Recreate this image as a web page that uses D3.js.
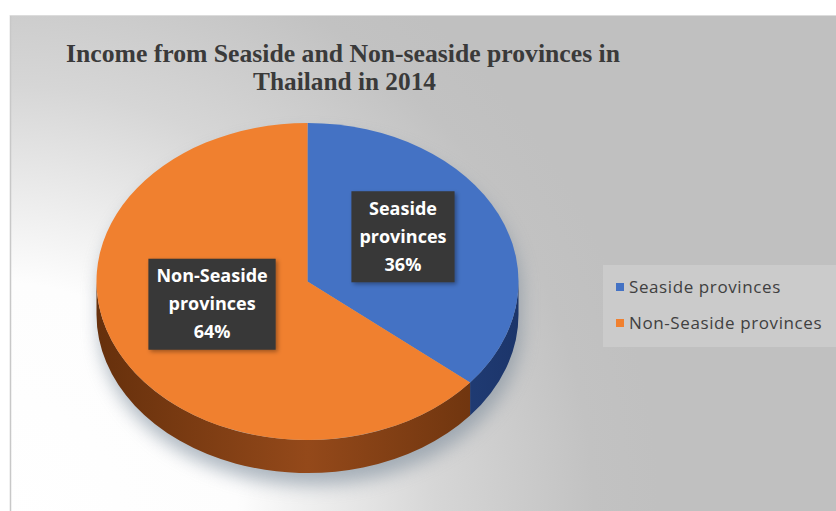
<!DOCTYPE html>
<html>
<head>
<meta charset="utf-8">
<script src="https://cdn.jsdelivr.net/npm/d3@7"></script>
<style>
  html, body { margin: 0; padding: 0; background: #fff; }
  svg { display: block; }
</style>
</head>
<body>
<svg id="chart" width="836" height="511"></svg>
<script>
// Income share by province group, Thailand 2014
const categories = ["Seaside provinces", "Non-Seaside provinces"];
const labelLines = [["Seaside", "provinces"], ["Non-Seaside", "provinces"]];
const shares = [36, 64];
const titleLines = ["Income from Seaside and Non-seaside provinces in", "Thailand in 2014"];

const topColors = ["#4472c4", "#f0802f"];
const sideLight = ["#2a4d8f", "#94491a"];
const sideDark = ["#1c356a", "#66300c"];

const W = 836, H = 511;
const svg = d3.select("#chart");
const defs = svg.append("defs");

// chart area background: grey fading to white towards the lower left
const bg = defs.append("radialGradient").attr("id", "bgGrad")
  .attr("gradientUnits", "userSpaceOnUse")
  .attr("cx", 0).attr("cy", 520).attr("r", 660);
bg.append("stop").attr("offset", "0").attr("stop-color", "#ffffff");
bg.append("stop").attr("offset", "0.36").attr("stop-color", "#fdfdfd");
bg.append("stop").attr("offset", "0.66").attr("stop-color", "#d6d6d6");
bg.append("stop").attr("offset", "0.9").attr("stop-color", "#c2c2c2");
bg.append("stop").attr("offset", "1").attr("stop-color", "#c0c0c0");

svg.append("rect").attr("x", 10).attr("y", 15).attr("width", W - 10).attr("height", H - 15)
  .attr("fill", "url(#bgGrad)");
svg.append("line").attr("x1", 10.5).attr("x2", 10.5).attr("y1", 15).attr("y2", H)
  .attr("stroke", "#c8c8c8").attr("stroke-width", 1.5);
svg.append("line").attr("x1", 10).attr("x2", W).attr("y1", 15.5).attr("y2", 15.5)
  .attr("stroke", "#dcdcdc").attr("stroke-width", 1);

// title
const title = svg.append("g").attr("fill", "#3a3a3a")
  .attr("font-family", "'Liberation Serif', 'Times New Roman', serif")
  .attr("font-weight", "bold").attr("font-size", 25).attr("text-anchor", "middle");
title.append("text").attr("x", 343).attr("y", 62)
  .attr("textLength", 554).attr("lengthAdjust", "spacingAndGlyphs").text(titleLines[0]);
title.append("text").attr("x", 344.5).attr("y", 90)
  .attr("textLength", 183).attr("lengthAdjust", "spacingAndGlyphs").text(titleLines[1]);

// 3D pie geometry
const cx = 307.5, cy = 281.5, rx = 211, ry = 158.5, depth = 33;
const rScale = d3.scaleLinear().domain([0, 1]).range([0, 1]);
const pt = (a, f = 1, dy = 0) => [cx + rx * rScale(f) * Math.sin(a), cy - ry * rScale(f) * Math.cos(a) + dy];

const arcs = d3.pie().sort(null).value(d => d)(shares);

function topPath(d) {
  const [x0, y0] = pt(d.startAngle), [x1, y1] = pt(d.endAngle);
  const large = d.endAngle - d.startAngle > Math.PI ? 1 : 0;
  return `M${cx},${cy}L${x0},${y0}A${rx},${ry} 0 ${large} 1 ${x1},${y1}Z`;
}
function sidePath(a0, a1) {
  const [x0, y0] = pt(a0), [x1, y1] = pt(a1);
  const [bx1, by1] = pt(a1, 1, depth), [bx0, by0] = pt(a0, 1, depth);
  const large = a1 - a0 > Math.PI ? 1 : 0;
  return `M${x0},${y0}A${rx},${ry} 0 ${large} 1 ${x1},${y1}L${bx1},${by1}` +
         `A${rx},${ry} 0 ${large} 0 ${bx0},${by0}Z`;
}

// soft drop shadow beneath the pie
const shf = defs.append("filter").attr("id", "pieShadow")
  .attr("x", "-20%").attr("y", "-20%").attr("width", "140%").attr("height", "150%");
shf.append("feGaussianBlur").attr("stdDeviation", 9);
svg.append("path")
  .attr("d", `M${cx - rx},${cy}A${rx},${ry} 0 1 1 ${cx + rx},${cy}L${cx + rx},${cy + depth}` +
             `A${rx},${ry} 0 1 1 ${cx - rx},${cy + depth}Z`)
  .attr("transform", "translate(3,12)")
  .attr("fill", "#7a8a9a").attr("opacity", 0.6).attr("filter", "url(#pieShadow)");

// side walls (front half only)
const front0 = Math.PI / 2, front1 = 3 * Math.PI / 2;
arcs.forEach((d, i) => {
  const a0 = Math.max(d.startAngle, front0), a1 = Math.min(d.endAngle, front1);
  if (a1 <= a0) return;
  const g = defs.append("linearGradient").attr("id", "side" + i)
    .attr("gradientUnits", "userSpaceOnUse")
    .attr("x1", cx - rx).attr("x2", cx + rx).attr("y1", 0).attr("y2", 0);
  g.append("stop").attr("offset", "0").attr("stop-color", sideDark[i]);
  g.append("stop").attr("offset", "0.5").attr("stop-color", sideLight[i]);
  g.append("stop").attr("offset", "1").attr("stop-color", sideDark[i]);
  svg.append("path").attr("d", sidePath(a0, a1)).attr("fill", `url(#side${i})`);
});

// top faces
svg.append("g").selectAll("path").data(arcs).join("path")
  .attr("d", topPath)
  .attr("fill", (d, i) => topColors[i]);

// data labels in dark boxes
const lf = defs.append("filter").attr("id", "boxShadow")
  .attr("x", "-20%").attr("y", "-20%").attr("width", "150%").attr("height", "150%");
lf.append("feDropShadow").attr("dx", 2).attr("dy", 2).attr("stdDeviation", 2)
  .attr("flood-color", "#000").attr("flood-opacity", 0.35);

const lineH = 28;
arcs.forEach((d, i) => {
  const mid = (d.startAngle + d.endAngle) / 2;
  const [lx, ly0] = pt(mid, 0.5);
  const ly = ly0 - 11;
  const g = svg.append("g").attr("transform", `translate(${lx},${ly})`);
  const box = g.append("rect").attr("fill", "#383838").attr("filter", "url(#boxShadow)");
  const lines = labelLines[i].concat([shares[i] + "%"]);
  const t = g.append("text").attr("fill", "#ffffff").attr("text-anchor", "middle")
    .attr("font-family", "'Open Sans', 'Noto Sans', sans-serif")
    .attr("font-weight", "bold").attr("font-size", 18);
  lines.forEach((s, k) => {
    t.append("tspan").attr("x", 0).attr("y", (k - 1) * lineH + 6).text(s);
  });
  const bb = t.node().getBBox();
  const padX = 8;
  box.attr("x", bb.x - padX).attr("y", -45.5).attr("width", bb.width + 2 * padX).attr("height", 91);
});

// legend
const legend = svg.append("g");
legend.append("rect").attr("x", 603).attr("y", 265).attr("width", 233).attr("height", 82)
  .attr("fill", "#cbcbcb");
categories.forEach((c, i) => {
  const y = 287 + i * 36;
  legend.append("rect").attr("x", 616).attr("y", y - 4).attr("width", 8).attr("height", 8)
    .attr("fill", topColors[i]);
  legend.append("text").attr("x", 629).attr("y", y + 6)
    .attr("font-family", "'Open Sans', 'Noto Sans', sans-serif").attr("font-size", 17)
    .attr("letter-spacing", 0.6)
    .attr("fill", "#404040").text(c);
});
</script>
</body>
</html>
